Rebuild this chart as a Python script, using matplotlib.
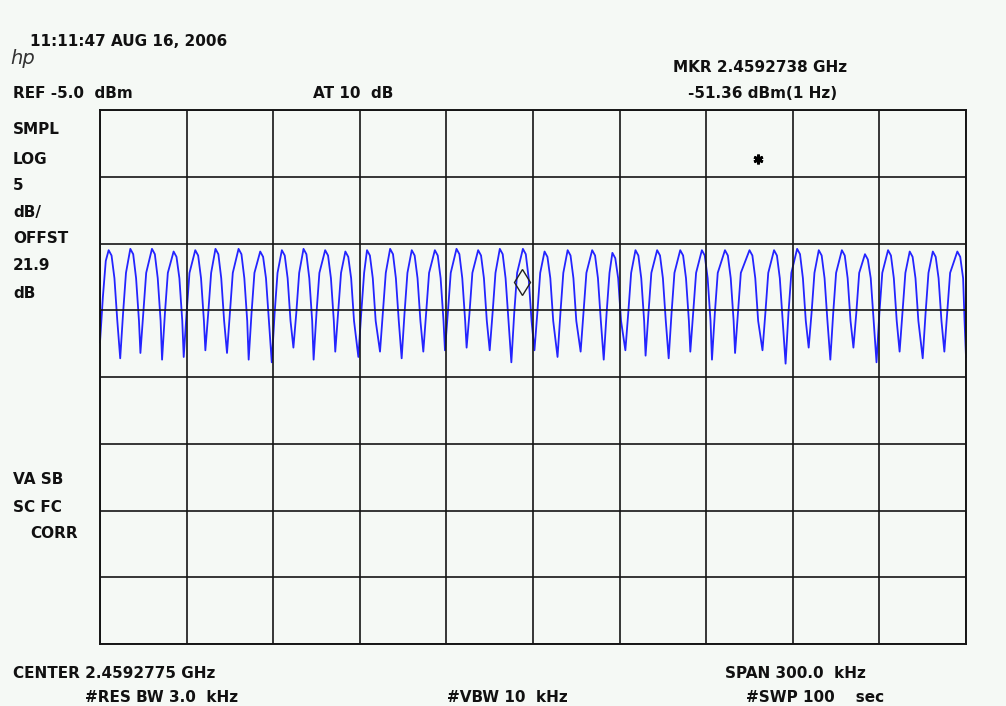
import matplotlib
matplotlib.use("Agg")
import matplotlib.pyplot as plt

W, H = 1006, 706
BG = "#f5f9f5"
TRACE = "#2424ff"

# trace point index (0..600 across the screen) and level in dBm
# one row per cycle: peak, shoulder, falling edge, trough, rising edge
trace_idx = [
    0, 2, 4,
    6, 8, 10, 12, 14, 16, 18,
    21, 23, 25, 27, 28, 30, 32,
    36, 38, 40, 42, 43, 45, 47,
    51, 53, 55, 57, 58, 60, 62,
    66, 68, 70, 72, 73, 75, 77,
    80, 82, 84, 86, 88, 90, 92,
    96, 98, 100, 102, 103, 105, 107,
    111, 113, 115, 117, 119, 121, 123,
    126, 128, 130, 132, 134, 136, 138,
    141, 143, 145, 147, 148, 150, 152,
    156, 158, 160, 162, 163, 165, 167,
    170, 172, 174, 176, 179, 181, 183,
    185, 187, 189, 191, 194, 196, 198,
    201, 203, 205, 207, 209, 211, 213,
    216, 218, 220, 222, 224, 226, 228,
    232, 234, 236, 238, 239, 241, 243,
    247, 249, 251, 253, 254, 256, 258,
    262, 264, 266, 268, 270, 272, 274,
    277, 279, 281, 283, 285, 287, 289,
    293, 295, 297, 299, 301, 303, 305,
    308, 310, 312, 314, 317, 319, 321,
    324, 326, 328, 330, 333, 335, 337,
    341, 343, 345, 347, 349, 351, 353,
    355, 357, 359, 361, 364, 366, 368,
    371, 373, 375, 377, 378, 380, 382,
    386, 388, 390, 392, 394, 396, 398,
    402, 404, 406, 408, 409, 411, 413,
    417, 419, 421, 423, 424, 426, 428,
    433, 435, 437, 439, 440, 442, 444,
    450, 452, 454, 456, 459, 461, 463,
    467, 469, 471, 473, 475, 477, 479,
    483, 485, 487, 489, 491, 493, 495,
    498, 500, 502, 504, 506, 508, 510,
    514, 516, 518, 520, 522, 524, 526,
    530, 532, 534, 536, 538, 540, 542,
    546, 548, 550, 552, 554, 556, 558,
    561, 563, 565, 567, 570, 572, 574,
    577, 579, 581, 583, 585, 587, 589,
    594, 596, 598, 599, 600,
]
trace_dbm = [
    -22.4, -19.0, -16.3,
    -15.5, -15.9, -17.6, -20.8, -23.6, -20.2, -17.2,
    -15.4, -15.8, -17.6, -20.8, -23.2, -20.2, -17.2,
    -15.4, -15.8, -17.6, -20.8, -23.7, -20.2, -17.2,
    -15.6, -16.0, -17.6, -20.8, -23.5, -20.2, -17.2,
    -15.5, -15.9, -17.6, -20.8, -23.0, -20.2, -17.2,
    -15.4, -15.8, -17.6, -20.8, -23.2, -20.2, -17.2,
    -15.4, -15.8, -17.6, -20.8, -23.7, -20.2, -17.2,
    -15.6, -16.0, -17.6, -20.8, -23.9, -20.2, -17.2,
    -15.5, -15.9, -17.6, -20.8, -22.8, -20.2, -17.2,
    -15.4, -15.8, -17.6, -20.8, -23.7, -20.2, -17.2,
    -15.5, -15.9, -17.6, -20.8, -23.1, -20.2, -17.2,
    -15.6, -16.0, -17.6, -20.8, -23.5, -20.2, -17.2,
    -15.5, -15.9, -17.6, -20.8, -23.1, -20.2, -17.2,
    -15.4, -15.8, -17.6, -20.8, -23.6, -20.2, -17.2,
    -15.5, -15.9, -17.6, -20.8, -23.1, -20.2, -17.2,
    -15.5, -15.9, -17.6, -20.8, -23.0, -20.2, -17.2,
    -15.4, -15.8, -17.6, -20.8, -22.8, -20.2, -17.2,
    -15.5, -15.9, -17.6, -20.8, -23.0, -20.2, -17.2,
    -15.4, -15.8, -17.6, -20.8, -23.9, -20.2, -17.2,
    -15.4, -15.8, -17.6, -20.8, -23.0, -20.2, -17.2,
    -15.6, -16.0, -17.6, -20.8, -23.5, -20.2, -17.2,
    -15.5, -15.9, -17.6, -20.8, -23.1, -20.2, -17.2,
    -15.5, -15.9, -17.6, -20.8, -23.7, -20.2, -17.2,
    -15.7, -16.1, -17.6, -20.8, -23.0, -20.2, -17.2,
    -15.5, -15.9, -17.6, -20.8, -23.4, -20.2, -17.2,
    -15.5, -15.9, -17.6, -20.8, -23.6, -20.2, -17.2,
    -15.5, -15.9, -17.6, -20.8, -23.1, -20.2, -17.2,
    -15.5, -15.9, -17.6, -20.8, -23.7, -20.2, -17.2,
    -15.5, -15.9, -17.6, -20.8, -23.2, -20.2, -17.2,
    -15.5, -15.9, -17.6, -20.8, -23.0, -20.2, -17.2,
    -15.5, -15.9, -17.6, -20.8, -24.0, -20.2, -17.2,
    -15.4, -15.8, -17.6, -20.8, -22.8, -20.2, -17.2,
    -15.5, -15.9, -17.6, -20.8, -23.7, -20.2, -17.2,
    -15.5, -15.9, -17.6, -20.8, -22.8, -20.2, -17.2,
    -15.8, -16.2, -17.6, -20.8, -23.9, -20.2, -17.2,
    -15.5, -15.9, -17.6, -20.8, -23.1, -20.2, -17.2,
    -15.6, -16.0, -17.6, -20.8, -23.6, -20.2, -17.2,
    -15.6, -16.0, -17.6, -20.8, -23.1, -20.2, -17.2,
    -15.6, -16.0, -17.6, -20.8, -23.5,
]

# marker (diamond on trace) and the second marker symbol
mkr_idx, mkr_dbm = 292.6, -17.9
star_idx, star_dbm = 456, -8.7

ref_dbm = -5.0
db_per_div = 5
n_xdiv, n_ydiv = 10, 8
n_points = 600

# screen annotations: (x px, y px, text)
header_text = [
    (30, 42, "11:11:47 AUG 16, 2006"),
    (673, 68, "MKR 2.4592738 GHz"),
    (13, 93, "REF -5.0  dBm"),
    (313, 93, "AT 10  dB"),
    (688, 93, "-51.36 dBm(1 Hz)"),
]
side_text = [
    (13, 129, "SMPL"), (13, 159, "LOG"), (13, 186, "5"), (13, 212, "dB/"),
    (13, 239, "OFFST"), (13, 266, "21.9"), (13, 293, "dB"),
    (13, 480, "VA SB"), (13, 507, "SC FC"), (30, 534, "CORR"),
]
footer_text = [
    (13, 673, "CENTER 2.4592775 GHz"),
    (725, 673, "SPAN 300.0  kHz"),
    (85, 697, "#RES BW 3.0  kHz"),
    (447, 697, "#VBW 10  kHz"),
    (746, 697, "#SWP 100    sec"),
]

fig = plt.figure(figsize=(W / 100, H / 100), dpi=100, facecolor=BG)
ax = fig.add_axes([100 / W, 1 - 644 / H, 866 / W, 534 / H], facecolor=BG)

bottom_dbm = ref_dbm - db_per_div * n_ydiv
ax.set_xlim(0, n_points)
ax.set_ylim(bottom_dbm, ref_dbm)
ax.set_xticks([i * n_points / n_xdiv for i in range(n_xdiv + 1)])
ax.set_yticks([bottom_dbm + i * db_per_div for i in range(n_ydiv + 1)])
ax.tick_params(length=0, labelbottom=False, labelleft=False)
ax.grid(True, color="#151515", linewidth=1.2, zorder=3)
ax.set_axisbelow(False)
for sp in ax.spines.values():
    sp.set_color("#151515")
    sp.set_linewidth(1.4)
    sp.set_zorder(4)

ax.plot(trace_idx, trace_dbm, color=TRACE, linewidth=1.3, zorder=2, clip_on=False)
ax.plot([mkr_idx], [mkr_dbm], marker="d", markersize=13, markerfacecolor="none",
        markeredgecolor="#222222", markeredgewidth=1.0, zorder=5)
ax.plot([star_idx], [star_dbm], marker=(6, 2, 0), markersize=7,
        markeredgecolor="black", markeredgewidth=2.0, zorder=5)

font = dict(family="DejaVu Sans", weight="bold", size=11, color="#111111")
for x, y, s in header_text + side_text + footer_text:
    fig.text(x / W, 1 - y / H, s, ha="left", va="center", **font)

# hp logo
fig.text(10 / W, 1 - 58 / H, "hp", ha="left", va="center", family="DejaVu Sans",
         style="italic", weight="light", size=14, color="#333333")

fig.savefig("out.png", dpi=100, facecolor=BG)
